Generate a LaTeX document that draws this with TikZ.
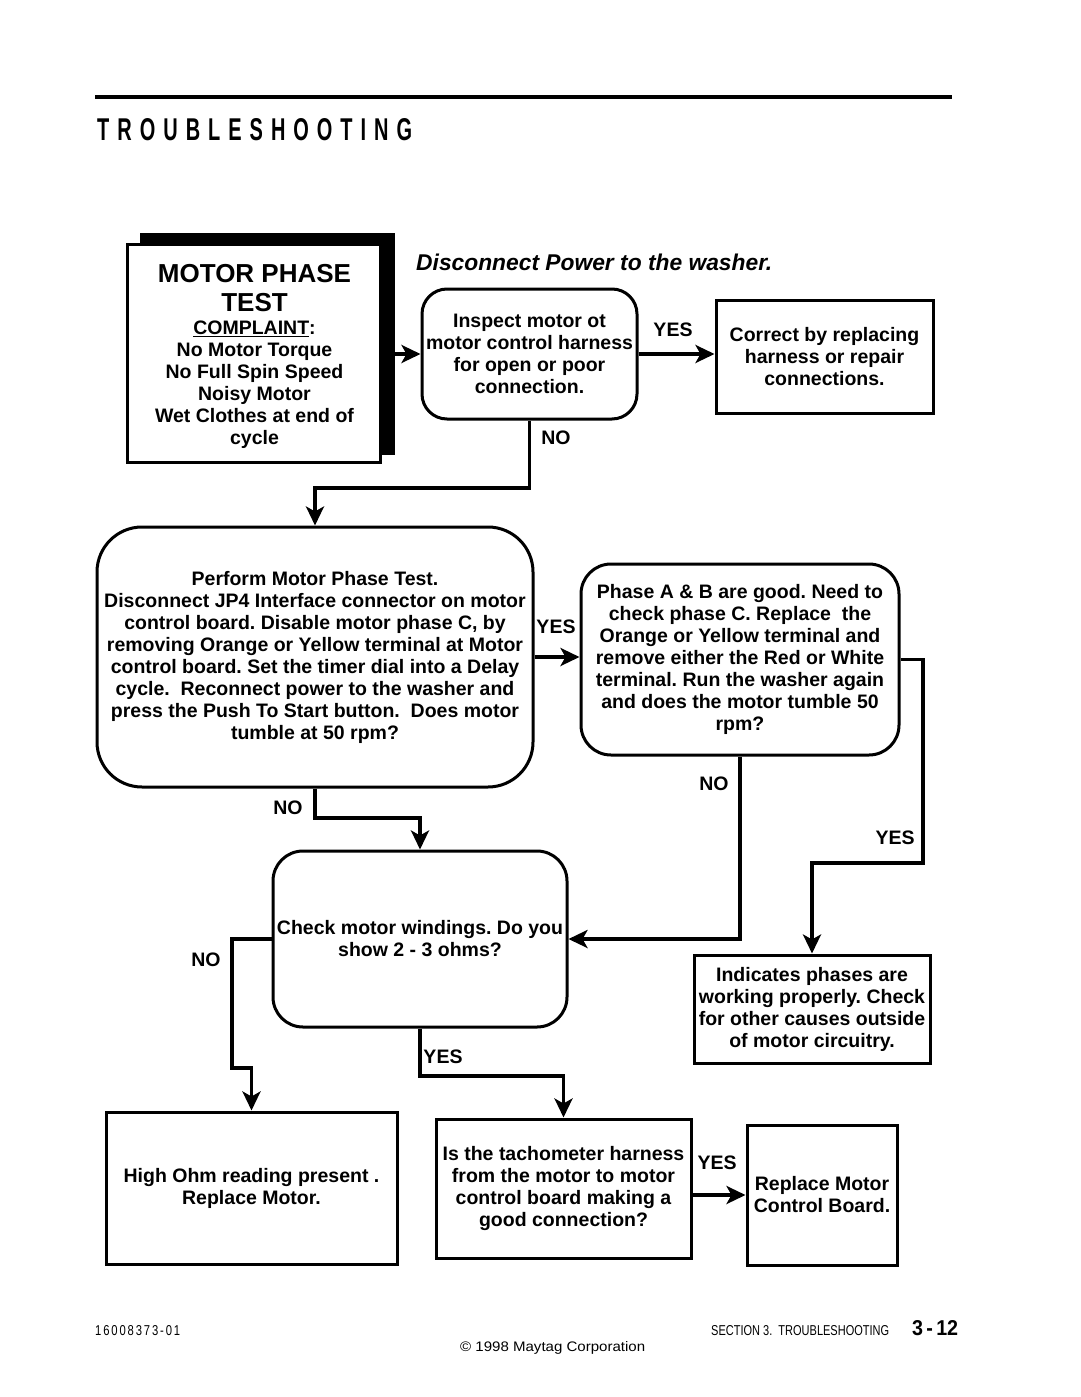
\documentclass[tikz,border=0pt]{standalone}
\usepackage{fontspec}
\setmainfont{Liberation Sans}
\usetikzlibrary{arrows.meta,calc}
\begin{document}
\frenchspacing
\begin{tikzpicture}[x=1pt,y=-1pt,
  txt/.style={font=\bfseries\fontsize{19.5}{22}\selectfont, align=center},
  rbox/.style={draw, line width=3pt, rounded corners=#1, inner sep=0pt, txt},
  sbox/.style={draw, line width=3pt, inner sep=0pt, txt},
  conn/.style={line width=3.5pt, -{Stealth[length=19pt,width=18pt,inset=5pt]}},
  lbl/.style={font=\bfseries\fontsize{19.5}{22}\selectfont, inner sep=0pt}]
\useasboundingbox (0,0) rectangle (1080,1397);

% header
\coordinate (r1) at (95,97);
\coordinate (r2) at (952,97);
\draw[line width=4pt] (r1) -- (r2);
\node[anchor=base west, inner sep=0pt] (title) at (97,140)
  {\resizebox{315pt}{22pt}{\bfseries T\hspace{.4em}R\hspace{.4em}O\hspace{.4em}U\hspace{.4em}B\hspace{.4em}L\hspace{.4em}E\hspace{.4em}S\hspace{.4em}H\hspace{.4em}O\hspace{.4em}O\hspace{.4em}T\hspace{.4em}I\hspace{.4em}N\hspace{.4em}G}};

% motor phase test box
\node[fill=black, minimum width=255, minimum height=222, inner sep=0pt] (mpsh) at (267.5,344) {};
\node[draw, fill=white, line width=3pt, minimum width=253, minimum height=218, inner sep=0pt] (mp) at (253.5,353) {};
\node[font=\bfseries\fontsize{26}{29}\selectfont, align=center, inner sep=0pt] (mphead) at (254.5,288) {MOTOR PHASE\\TEST};
\node[txt, inner sep=0pt] (mplist) at (254.5,385) {\underline{COMPLAINT}:\\No Motor Torque\\No Full Spin Speed\\Noisy Motor\\Wet Clothes at end of\\cycle};

\node[font=\bfseries\itshape\fontsize{22.8}{26}\selectfont, anchor=west, inner sep=0pt] (disc) at (416,262) {Disconnect Power to the washer.};

% boxes
\node[rbox=25pt, minimum width=215, minimum height=130] (insp) at (529.5,354) {Inspect motor ot\\motor control harness\\for open or poor\\connection.};
\node[sbox, minimum width=217, minimum height=113] (corr) at (824.5,356.5) {Correct by replacing\\harness or repair\\connections.};
\node[rbox=45pt, minimum width=436, minimum height=260] (perf) at (315,657) {Perform Motor Phase Test.\\Disconnect JP4 Interface connector on motor\\control board. Disable motor phase C, by\\removing Orange or Yellow terminal at Motor\\control board. Set the timer dial into a Delay\\cycle.\ \ Reconnect power to the washer and\\press the Push To Start button.\ \ Does motor\\tumble at 50 rpm?};
\node[rbox=30pt, minimum width=318, minimum height=191] (phase) at (740,659.5) {Phase A \& B are good. Need to\\check phase C. Replace\ \ the\\Orange or Yellow terminal and\\remove either the Red or White\\terminal. Run the washer again\\and does the motor tumble 50\\rpm?};
\node[rbox=30pt, minimum width=294, minimum height=176] (check) at (420,939) {Check motor windings. Do you\\show 2 - 3 ohms?};
\node[sbox, minimum width=236, minimum height=108] (indic) at (812,1009) {Indicates phases are\\working properly. Check\\for other causes outside\\of motor circuitry.};
\node[sbox, minimum width=291, minimum height=152] (high) at (251.5,1188) {High Ohm reading present .\\Replace Motor.};
\node[sbox, minimum width=255, minimum height=139] (tach) at (563.5,1188.5) {Is the tachometer harness\\from the motor to motor\\control board making a\\good connection?};
\node[sbox, minimum width=150, minimum height=140] (repl) at (822,1195) {Replace Motor\\Control Board.};

% connectors
\draw[conn] (mpsh.east |- insp.west) -- (insp.west);
\draw[conn] (insp.east) -- (insp.east -| corr.west);
\node[lbl] (y1) at (673,330) {YES};

\coordinate (b1) at (315,488);
\draw[conn] (insp.south) |- (b1) -- (perf.north);
\node[lbl] (n1) at (556,438) {NO};

\draw[conn] (perf.east) -- (perf.east -| phase.west);
\node[lbl] (y2) at (556,627) {YES};

\coordinate (b2) at (923,863);
\draw[conn] (phase.east) -| (b2) -| (indic.north);
\node[lbl] (y3) at (895,838) {YES};

\draw[conn] (phase.south) |- (check.east);
\node[lbl] (n2) at (714,784) {NO};

\coordinate (b3) at (315,818);
\draw[conn] (perf.south) -- (b3) -| (check.north);
\node[lbl] (n3) at (288,808) {NO};

\coordinate (b4) at (232,1068);
\draw[conn] (check.west) -| (b4) -| (high.north);
\node[lbl] (n4) at (206,960) {NO};

\coordinate (b5) at (420,1076);
\draw[conn] (check.south) -- (b5) -| (tach.north);
\node[lbl] (y4) at (443,1057) {YES};

\draw[conn] (tach.east |- repl.west) -- (repl.west);
\node[lbl] (y5) at (717,1163) {YES};

% footer
\node[anchor=base west, inner sep=0pt] (f1) at (95,1335) {\resizebox{85pt}{10pt}{1\,6\,0\,0\,8\,3\,7\,3\,-\,0\,1}};
\node[anchor=base west, inner sep=0pt] (f2) at (711,1335) {\resizebox{178pt}{10pt}{SECTION 3.\ \ TROUBLESHOOTING}};
\node[anchor=base west, inner sep=0pt] (f3) at (912,1335) {\resizebox{46pt}{15pt}{\bfseries 3\,-\,12}};
\node[anchor=base west, inner sep=0pt] (f4) at (460,1351) {\resizebox{185pt}{10pt}{© 1998 Maytag Corporation}};
\end{tikzpicture}
\end{document}
